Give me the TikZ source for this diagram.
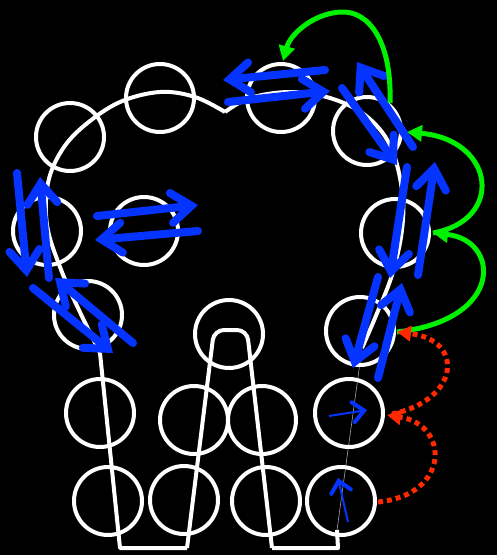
\documentclass[tikz,border=0pt]{standalone}
\usetikzlibrary{arrows.meta}
\definecolor{bblue}{RGB}{5,51,255}
\definecolor{ggreen}{RGB}{0,240,0}
\definecolor{rred}{RGB}{255,40,0}
\begin{document}
\begin{tikzpicture}[x=1pt,y=-1pt,
  ring/.style={circle,draw=white,line width=4pt,minimum size=68pt,inner sep=0pt},
  outline/.style={draw=white,line width=4pt,line join=round},
  barrow/.style={draw=bblue,line width=8pt,line cap=round,
     -{Straight Barb[length=20pt,width=30pt,line cap=round,line join=miter]}},
  thinarrow/.style={draw=bblue,line width=2pt,
     -{Straight Barb[length=11pt,width=20pt,line width=4pt,line cap=round,line join=miter]}},
  garrow/.style={draw=ggreen,line width=5pt,-{Triangle[length=15pt,width=16pt]}},
  rarrow/.style={draw=rred,line width=5pt,dash pattern=on 5pt off 4pt,
     -{Triangle[length=14pt,width=15pt,sep=0pt]}}]
\fill[black] (0,0) rectangle (497,555);
\useasboundingbox (0,0) rectangle (497,555);

% outline
\draw[outline] plot[smooth,tension=0.6] coordinates
  {(100,353) (78,308) (60,267) (47,225) (48,183) (62,150) (85,125) (120,102) (160,92) (195,97) (225,112)};
\draw[outline] plot[smooth,tension=0.6] coordinates
  {(225,112) (250,98) (290,92) (330,98) (365,115) (390,145) (402,190) (402,230) (392,275) (375,318) (362,348)};
\draw[gray!70,line width=0.6pt] (362,348) -- (337,530);
\draw[outline] (337,530) -- (338,548) -- (272,548);
\draw[outline,rounded corners=10pt] (272,548) -- (247,330) -- (214,330) -- (187,548);
\draw[outline] (187,548) -- (120,548) -- (100,353);

% circles
\node[ring] (c1) at (70,137) {};
\node[ring] (c2) at (160,98) {};
\node[ring] (c3) at (281,98) {};
\node[ring] (c4) at (367,131) {};
\node[ring] (c5) at (395,233) {};
\node[ring] (c6) at (360,331) {};
\node[ring] (c7) at (349,413) {};
\node[ring] (c8) at (341,501) {};
\node[ring] (c9) at (47,231) {};
\node[ring] (c10) at (144,231) {};
\node[ring] (c11) at (88,315) {};
\node[ring] (c12) at (229,334) {};
\node[ring] (c13) at (100,413) {};
\node[ring] (c14) at (194,420) {};
\node[ring] (c15) at (262,420) {};
\node[ring] (c16) at (108,501) {};
\node[ring] (c17) at (184,500) {};
\node[ring] (c18) at (266,501) {};

% blue arrows
\draw[barrow] (325,70) -- (223,80);
\draw[barrow] (228,102) -- (330,91);
\draw[barrow] (342,88) -- (397,165);
\draw[barrow] (413,147) -- (357,62);
\draw[barrow] (407,167) -- (390,278);
\draw[barrow] (418,275) -- (435,162);
\draw[barrow] (378,277) -- (353,368);
\draw[barrow] (378,378) -- (402,283);
\draw[barrow] (97,216) -- (198,205);
\draw[barrow] (198,231) -- (95,240);
\draw[barrow] (17,173) -- (27,277);
\draw[barrow] (49,278) -- (40,177);
\draw[barrow] (33,288) -- (113,353);
\draw[barrow] (133,343) -- (55,278);
\draw[thinarrow] (329,416) -- (367,410);
\draw[thinarrow] (348,522) -- (338,478);

% green arrows
\draw[garrow] (390,103) .. controls (392,40) and (368,10) .. (340,12)
  .. controls (312,14) and (290,35) .. (283,61);
\draw[garrow] (433,233) .. controls (505,220) and (495,140) .. (407,132);
\draw[garrow] (397,332) .. controls (505,320) and (500,240) .. (433,233);

% red dotted arrows
\draw[rarrow] (378,502) .. controls (450,495) and (450,425) .. (387,415);
\draw[rarrow] (392,414) .. controls (460,400) and (465,340) .. (397,332);
\end{tikzpicture}
\end{document}
